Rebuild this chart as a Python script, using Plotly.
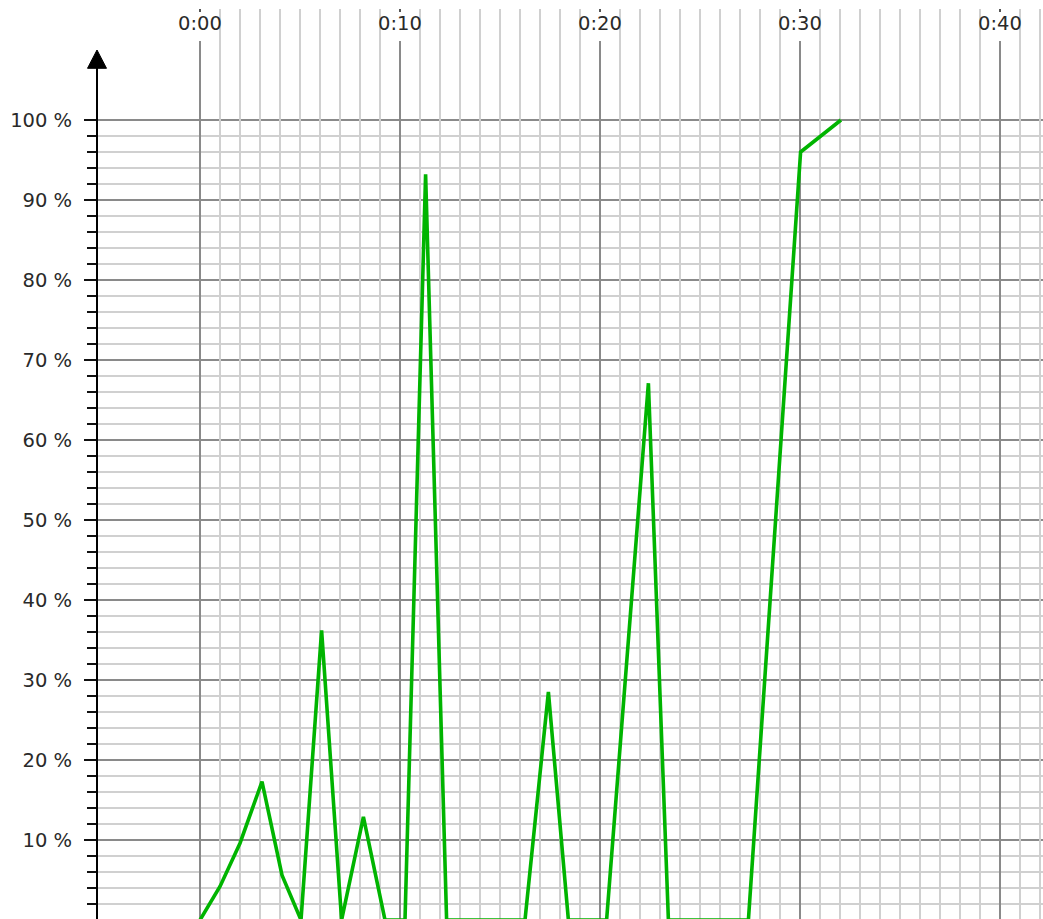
import plotly.graph_objects as go

# Sample times (seconds) and load values (%)
times = [0, 1.0, 2.0, 3.1, 4.1, 5.05, 6.08, 7.08, 8.17, 9.25, 10.25, 11.28,
         12.33, 16.25, 17.42, 18.42, 20.33, 22.42, 23.42, 27.42, 30.03, 32.05]
values = [0, 4.2, 9.6, 17.3, 5.6, 0, 36.2, 0, 12.9, 0, 0, 93.2,
          0, 0, 28.5, 0, 0, 67.1, 0, 0, 96.0, 100]

# Axis ticks
x_major = [0, 10, 20, 30, 40]
x_major_labels = ["0:00", "0:10", "0:20", "0:30", "0:40"]
x_minor = [t for t in range(1, 43) if t % 10 != 0]
y_major = [10, 20, 30, 40, 50, 60, 70, 80, 90, 100]
y_major_labels = ["10 %", "20 %", "30 %", "40 %", "50 %", "60 %", "70 %", "80 %", "90 %", "100 %"]
y_minor = [v for v in range(2, 100, 2) if v % 10 != 0]

W, H = 1043, 919
X_RANGE = [-5.15, 42.15]
Y_RANGE = [0.125, 115]
GRID_TOP = 113.875          # top end of the vertical grid lines
LABEL_GAP_BOTTOM = 109.875  # major vertical lines resume below their label
STUB_BOTTOM = 113.5
MINOR_C = "#d0d0d0"
MAJOR_C = "#8a8a8a"
INK = "#2a2a2a"
FONT = "DejaVu Sans"

shapes = []
# minor grid
for v in y_minor:
    shapes.append(dict(type="line", xref="paper", yref="y", x0=0, x1=1, y0=v, y1=v,
                       line=dict(color=MINOR_C, width=2), layer="below"))
for t in x_minor:
    shapes.append(dict(type="line", xref="x", yref="y", x0=t, x1=t, y0=Y_RANGE[0] - 1,
                       y1=GRID_TOP, line=dict(color=MINOR_C, width=2), layer="below"))
# major grid
for v in y_major:
    shapes.append(dict(type="line", xref="paper", yref="y", x0=0, x1=1, y0=v, y1=v,
                       line=dict(color=MAJOR_C, width=2), layer="below"))
for t in x_major:
    shapes.append(dict(type="line", xref="x", yref="y", x0=t, x1=t, y0=Y_RANGE[0] - 1,
                       y1=LABEL_GAP_BOTTOM, line=dict(color=MAJOR_C, width=2), layer="below"))
    shapes.append(dict(type="line", xref="x", yref="y", x0=t, x1=t, y0=STUB_BOTTOM,
                       y1=GRID_TOP, line=dict(color="#555555", width=2), layer="below"))

# value axis line with an arrow head at its top
ARROW_TIP = 1 - 50 / H
shapes.append(dict(type="line", xref="paper", yref="paper", x0=0, x1=0, y0=-0.01,
                   y1=1 - 64 / H, line=dict(color="#000000", width=2), layer="above"))
shapes.append(dict(type="path", xref="paper", yref="paper",
                   xsizemode="pixel", ysizemode="pixel", xanchor=0, yanchor=ARROW_TIP,
                   path="M -9.5 -18.3 L 0 0 L 9.5 -18.3 Z",
                   fillcolor="#000000", line=dict(color="#000000", width=1), layer="above"))

annotations = [
    dict(x=t, y=112.05, xref="x", yref="y", text=lab, showarrow=False,
         font=dict(size=19.5, color=INK, family=FONT), xanchor="center", yanchor="middle")
    for t, lab in zip(x_major, x_major_labels)
]

fig = go.Figure()
fig.add_trace(go.Scatter(x=times, y=values, mode="lines",
                         line=dict(color="#00b400", width=3.6), hoverinfo="skip"))

fig.update_layout(
    width=W, height=H,
    margin=dict(l=97, r=0, t=0, b=0, pad=0),
    paper_bgcolor="white", plot_bgcolor="white",
    showlegend=False,
    font=dict(family=FONT, color=INK),
    shapes=shapes,
    annotations=annotations,
    xaxis=dict(range=X_RANGE, showgrid=False, zeroline=False, showline=False,
               showticklabels=False, ticks="", fixedrange=True, automargin=False),
    yaxis=dict(range=Y_RANGE, showgrid=False, zeroline=False, showline=False,
               tickmode="array", tickvals=y_major, ticktext=y_major_labels,
               ticks="outside", ticklen=12, tickwidth=2, tickcolor="#111111",
               tickfont=dict(size=19.5, color=INK, family=FONT),
               ticklabelstandoff=8,
               minor=dict(tickmode="array", tickvals=y_minor, ticks="outside",
                          ticklen=9, tickwidth=2, tickcolor="#111111", showgrid=False),
               fixedrange=True, automargin=False),
)

fig.write_html("out.html", config={"displayModeBar": False})
